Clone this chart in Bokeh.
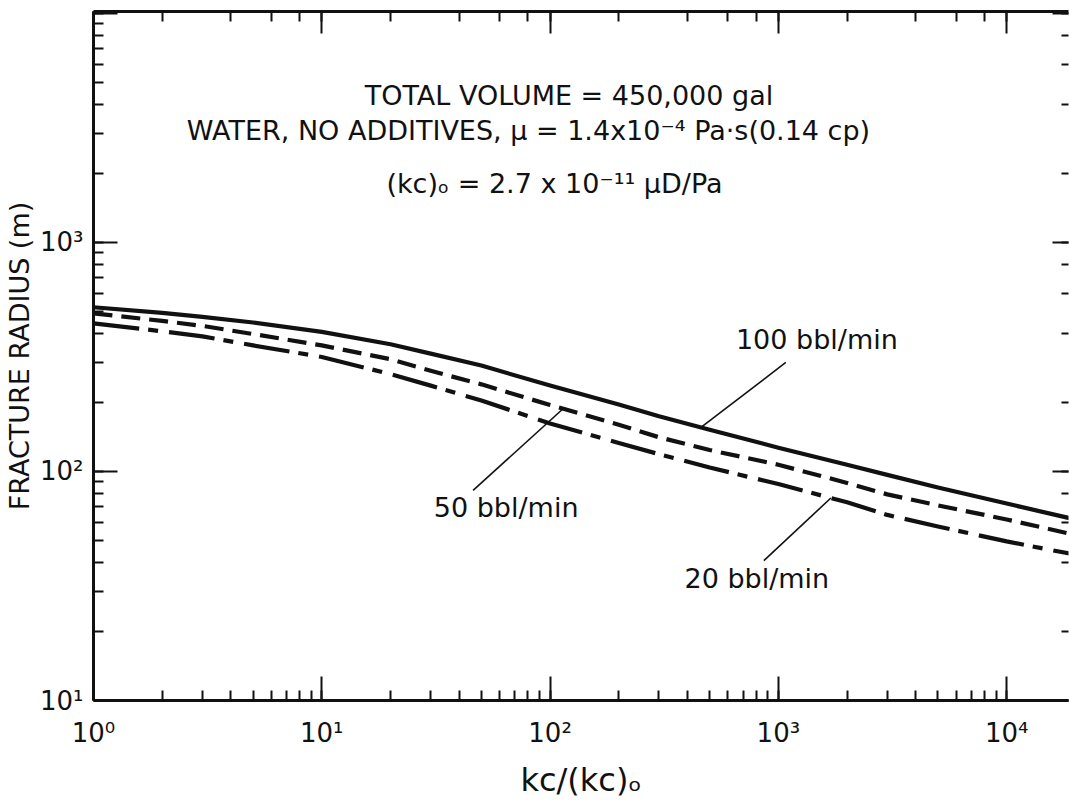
import numpy as np
from bokeh.plotting import figure
from bokeh.models import LogAxis, Label, Range1d, CustomJSTickFormatter, LogTicker
from bokeh.embed import file_html
from bokeh.resources import INLINE

# ---- data (kc/(kc)o vs fracture radius, m) ----
kc_ratio = [1, 2, 3, 5, 10, 20, 30, 50, 100, 200, 300, 500, 1000, 2000, 3000, 5000, 10000, 20000]
radius_100 = [521, 492, 473, 447, 407, 359, 327, 290, 237, 196, 174, 152, 127, 107, 96.6, 85.1, 72.4, 61.7]
radius_50 = [490, 454, 432, 398, 355, 309, 275, 240, 195, 160, 141, 124, 107, 89.1, 79.4, 71.1, 61.7, 52.8]
radius_20 = [443, 409, 389, 355, 316, 266, 237, 204, 162, 133, 119, 104, 88.1, 73.3, 64.6, 57.5, 49.5, 43.3]

x_ticks = [1, 10, 100, 1000, 10000]
x_tick_labels = ["10\u2070", "10\u00b9", "10\u00b2", "10\u00b3", "10\u2074"]
y_ticks = [10, 100, 1000, 10000]
y_tick_labels = ["10\u00b9", "10\u00b2", "10\u00b3", ""]

FONT = "DejaVu Sans"
INK = "#111111"

p = figure(width=1069, height=809, x_axis_type="log", y_axis_type="log",
           x_range=Range1d(1, 18660), y_range=Range1d(10, 10186),
           output_backend="svg", toolbar_location=None,
           min_border_left=92, min_border_right=1, min_border_top=11,
           min_border_bottom=109)
p.grid.visible = False
p.outline_line_color = None
p.background_fill_color = "white"
p.border_fill_color = "white"

# main axes
xa = p.xaxis[0]
ya = p.yaxis[0]
xa.major_label_overrides = dict(zip(x_ticks, x_tick_labels))
ya.major_label_overrides = dict(zip(y_ticks, y_tick_labels))
for ax in (xa, ya):
    ax.major_tick_out = 0
    ax.minor_tick_out = 0
    ax.major_tick_in = 24
    ax.minor_tick_in = 10
    ax.axis_line_width = 3
    ax.axis_line_color = INK
    ax.major_tick_line_width = 2
    ax.minor_tick_line_width = 2
    ax.major_tick_line_color = INK
    ax.minor_tick_line_color = INK
    ax.major_label_text_font = FONT
    ax.major_label_text_font_size = "26px"
    ax.major_label_text_color = INK
    ax.axis_label_text_font = FONT
    ax.axis_label_text_font_style = "normal"
    ax.axis_label_text_color = INK
ya.axis_label = "FRACTURE RADIUS (m)"
ya.axis_label_text_font_size = "27px"
ya.major_label_standoff = 10
ya.axis_label_standoff = 2
xa.axis_label = "kc/(kc)\u2092"
xa.axis_label_text_font_size = "32px"
xa.major_label_standoff = 17
xa.axis_label_standoff = 10

blank = CustomJSTickFormatter(code="return ''")
top = LogAxis(ticker=LogTicker(), formatter=blank, major_tick_in=22, major_tick_out=0,
              minor_tick_in=10, minor_tick_out=0, axis_line_width=3, axis_line_color=INK,
              major_tick_line_width=2, minor_tick_line_width=2,
              major_tick_line_color=INK, minor_tick_line_color=INK,
              major_label_text_font_size="0px", major_label_standoff=0)
p.add_layout(top, "above")
right = LogAxis(ticker=LogTicker(), formatter=blank, major_tick_in=16, major_tick_out=0,
                minor_tick_in=7, minor_tick_out=0, axis_line_color=None,
                major_tick_line_width=2, minor_tick_line_width=2,
                major_tick_line_color=INK, minor_tick_line_color=INK,
                major_label_text_font_size="0px", major_label_standoff=0)
p.add_layout(right, "right")

# curves
p.line(kc_ratio, radius_100, line_width=4.2, line_color=INK, line_join="round")
p.line(kc_ratio, radius_50, line_width=4.2, line_color=INK, line_dash="19 9", line_join="round")
p.line(kc_ratio, radius_20, line_width=4.2, line_color=INK, line_dash="46 9 10 11", line_join="round")


def on_curve(xq, xs, ys):
    return float(10 ** np.interp(np.log10(xq), np.log10(xs), np.log10(ys)))


# leader lines: (x on curve, series, label-end x, label-end y)
leaders = [
    (458, radius_100, 1078, 299),
    (114, radius_50, 46, 82.6),
    (1698, radius_20, 864, 40.8),
]
p.segment(x0=[l[0] for l in leaders],
          y0=[on_curve(l[0], kc_ratio, l[1]) for l in leaders],
          x1=[l[2] for l in leaders], y1=[l[3] for l in leaders],
          line_width=1.6, line_color=INK)

texts = [
    ("100 bbl/min", 1475, 377),
    ("50 bbl/min", 64.2, 69.7),
    ("20 bbl/min", 805, 34.1),
    ("TOTAL VOLUME = 450,000 gal", 121, 4385),
    ("WATER, NO  ADDITIVES,  \u03bc = 1.4x10\u207b\u2074 Pa\u00b7s(0.14 cp)", 87.7, 3083),
    ("(kc)\u2092  =  2.7 x 10\u207b\u00b9\u00b9 \u03bcD/Pa", 114, 1811),
]
for t, x, y in texts:
    p.add_layout(Label(x=x, y=y, text=t, text_align="center", text_baseline="middle",
                       text_font=FONT, text_font_size="27px", text_color=INK))

open("out.html", "w").write(file_html(p, INLINE))
